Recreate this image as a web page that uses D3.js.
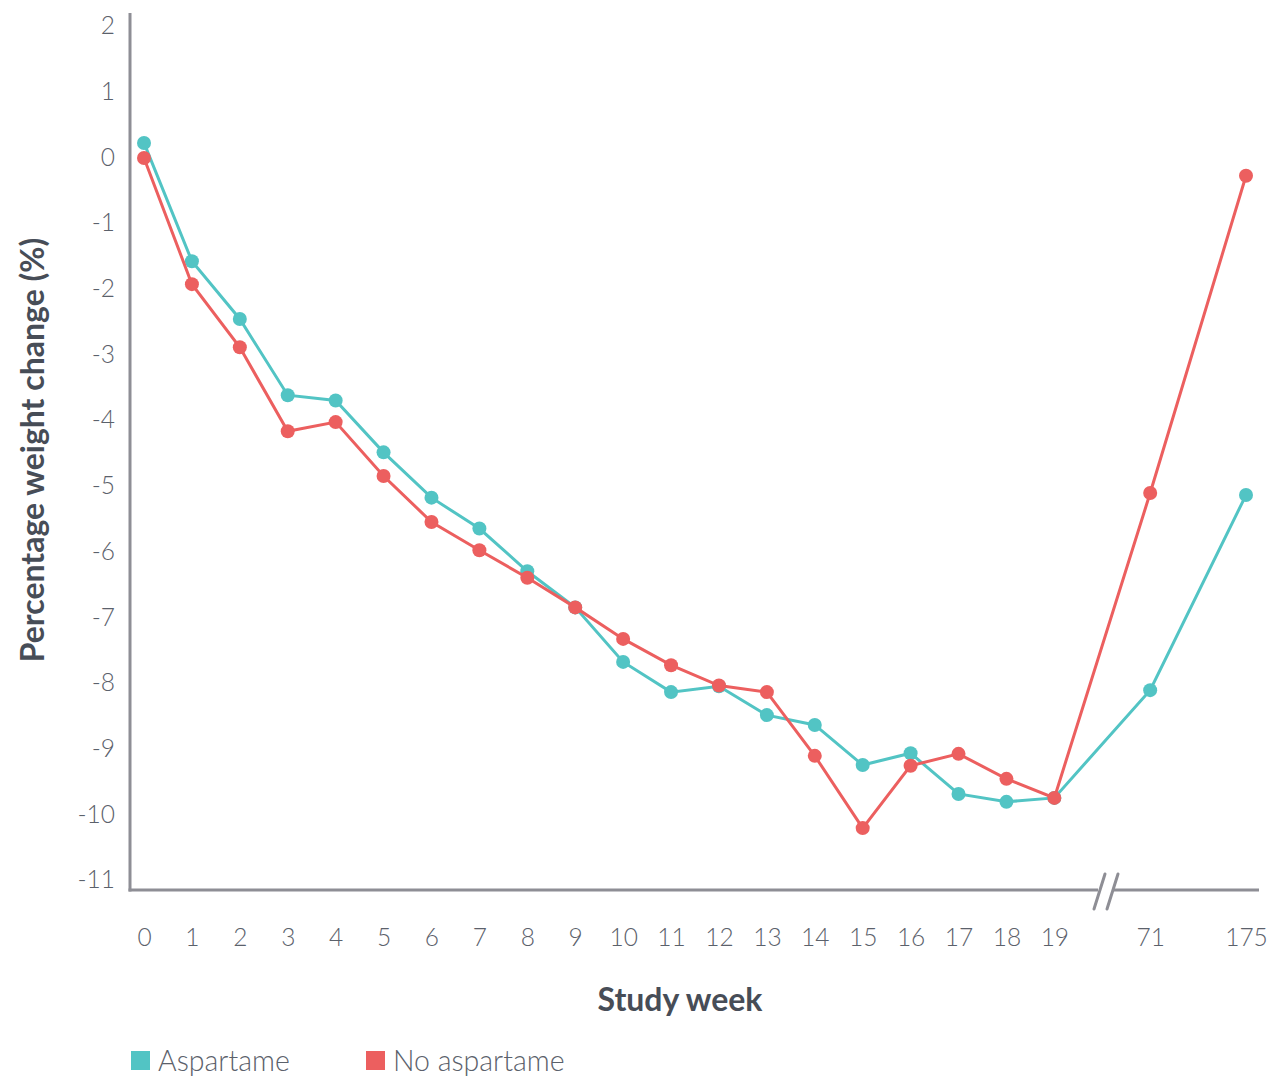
<!DOCTYPE html>
<html>
<head>
<meta charset="utf-8">
<script src="https://cdn.jsdelivr.net/npm/d3@7"></script>
<style>
  html, body { margin: 0; padding: 0; background: #fff; }
  svg { display: block; font-family: Lato, "Open Sans", sans-serif; }
</style>
</head>
<body>
<svg id="chart" width="1270" height="1079"></svg>
<script>
// ---- data ----
const weeks = ["0","1","2","3","4","5","6","7","8","9","10","11","12","13","14","15","16","17","18","19","71","175"];
const slots = [0,1,2,3,4,5,6,7,8,9,10,11,12,13,14,15,16,17,18,19,21,23];
const aspartame = [0.22,-1.58,-2.46,-3.62,-3.70,-4.49,-5.18,-5.65,-6.30,-6.85,-7.68,-8.14,-8.05,-8.49,-8.64,-9.25,-9.07,-9.69,-9.81,-9.75,-8.11,-5.14];
const noAspartame = [-0.01,-1.93,-2.89,-4.17,-4.03,-4.85,-5.55,-5.98,-6.40,-6.85,-7.33,-7.73,-8.04,-8.14,-9.11,-10.21,-9.26,-9.08,-9.46,-9.75,-5.11,-0.28];
const yTicks = [2,1,0,-1,-2,-3,-4,-5,-6,-7,-8,-9,-10,-11];
const seriesNames = ["Aspartame","No aspartame"];
const colors = ["#52c4c4","#ec5f5f"];

const svg = d3.select("#chart");
const axisColor = "#8e8e95";
const tickColor = "#5b616b";
const titleColor = "#474d57";

const x = d3.scaleLinear().domain([0, 23]).range([144, 1246]);
const y = d3.scaleLinear().domain([2, -11]).range([26, 880]);
const axisX0 = 130, axisY0 = 890;

// y axis labels
const yAxis = svg.append("g")
  .attr("transform", `translate(${axisX0},0)`)
  .call(d3.axisLeft(y).tickValues(yTicks).tickSize(0).tickPadding(15).tickFormat(d => String(d)));
yAxis.select(".domain").remove();
yAxis.selectAll("text").attr("fill", tickColor).style("font-size", "24.5px").style("font-weight", 300)
  .style("font-family", "Lato, sans-serif");

// x axis labels
const xAxis = svg.append("g")
  .attr("transform", `translate(0,${axisY0})`)
  .call(d3.axisBottom(x).tickValues(slots).tickSize(0).tickPadding(39)
    .tickFormat((d) => weeks[slots.indexOf(d)]));
xAxis.select(".domain").remove();
xAxis.selectAll("text").attr("fill", tickColor).style("font-size", "24.5px").style("font-weight", 300)
  .style("font-family", "Lato, sans-serif");

// axis lines
svg.append("line").attr("x1", axisX0).attr("x2", axisX0).attr("y1", 13).attr("y2", axisY0 + 1.5)
  .attr("stroke", axisColor).attr("stroke-width", 3);
svg.append("line").attr("x1", axisX0 - 1.5).attr("x2", 1098).attr("y1", axisY0).attr("y2", axisY0)
  .attr("stroke", axisColor).attr("stroke-width", 3);
svg.append("line").attr("x1", 1113).attr("x2", 1259).attr("y1", axisY0).attr("y2", axisY0)
  .attr("stroke", axisColor).attr("stroke-width", 3);
// break marks
[[1094, 1105], [1107, 1118]].forEach(([a, b]) => {
  svg.append("line").attr("x1", a).attr("y1", 909).attr("x2", b).attr("y2", 874)
    .attr("stroke", axisColor).attr("stroke-width", 3).attr("stroke-linecap", "round");
});

// lines and points
const line = d3.line().x((d, i) => x(slots[i])).y(d => y(d));
[aspartame, noAspartame].forEach((vals, k) => {
  const g = svg.append("g");
  g.append("path").datum(vals).attr("d", line).attr("fill", "none")
    .attr("stroke", colors[k]).attr("stroke-width", 3);
  g.selectAll("circle").data(vals).enter().append("circle")
    .attr("cx", (d, i) => x(slots[i])).attr("cy", d => y(d)).attr("r", 7)
    .attr("fill", colors[k]);
});

// axis titles
svg.append("text").attr("x", 680).attr("y", 1011).attr("text-anchor", "middle")
  .attr("fill", titleColor).style("font-size", "32px").style("font-weight", 700)
  .text("Study week");
svg.append("text").attr("transform", "translate(44,450) rotate(-90)").attr("text-anchor", "middle")
  .attr("fill", titleColor).style("font-size", "32px").style("font-weight", 700)
  .text("Percentage weight change (%)");

// legend
const legendX = [131, 366];
seriesNames.forEach((name, k) => {
  svg.append("rect").attr("x", legendX[k]).attr("y", 1051).attr("width", 19).attr("height", 19)
    .attr("fill", colors[k]);
  svg.append("text").attr("x", legendX[k] + 27).attr("y", 1071)
    .attr("fill", tickColor).style("font-size", "28.5px").style("font-weight", 300)
    .text(name);
});
</script>
</body>
</html>
